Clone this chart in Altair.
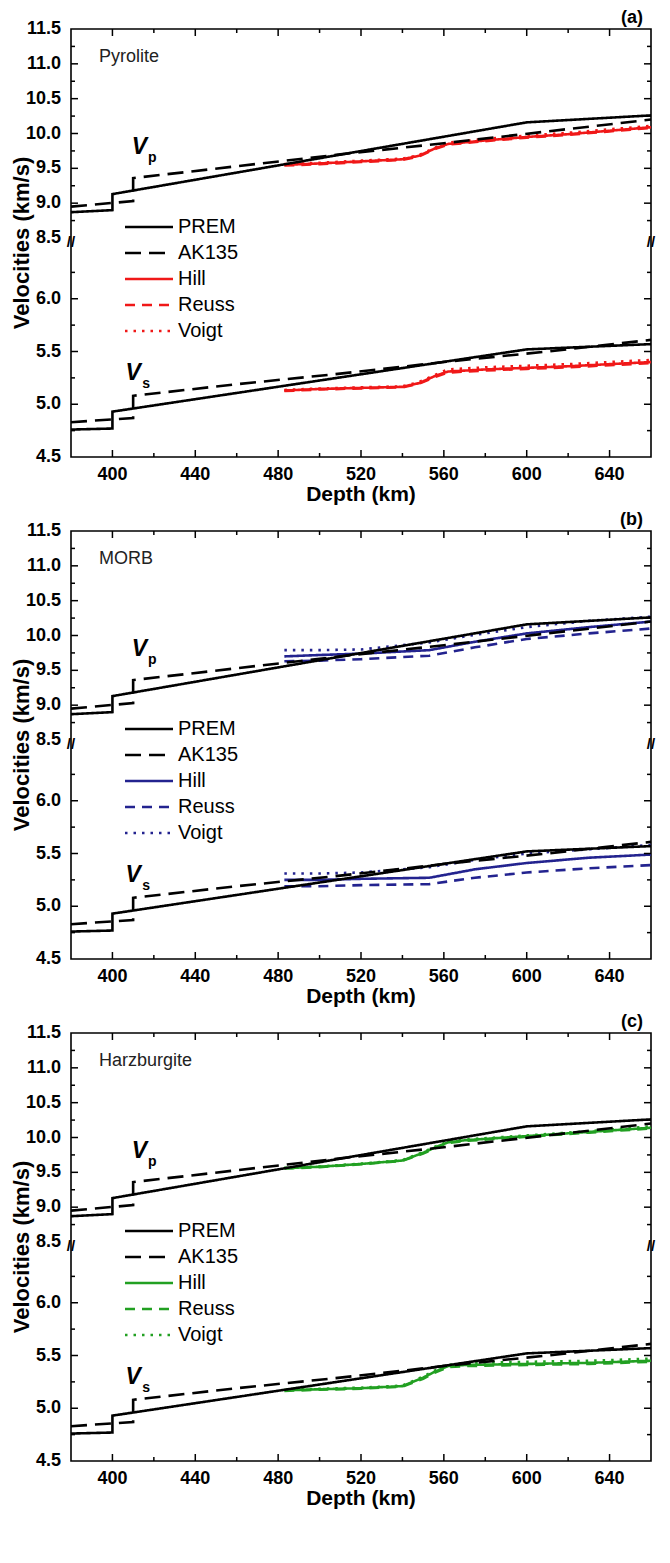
import altair as alt
import pandas as pd

# ---------------- axes / tick values ----------------
X_DOMAIN = [380, 660]
Y_DOMAIN = [4.5, 6.5, 8.5, 11.5]
X_LABELS = [400, 440, 480, 520, 560, 600, 640]
X_MINOR = [420, 460, 500, 540, 580, 620]
Y_LABELS = [4.5, 5.0, 5.5, 6.0, 8.5, 9.0, 9.5, 10.0, 10.5, 11.0, 11.5]
Y_MAJOR = [5.0, 5.5, 6.0, 9.0, 9.5, 10.0, 10.5, 11.0]
Y_MINOR = [4.75, 5.25, 5.75, 6.25, 8.75, 9.25, 9.75, 10.25, 10.75, 11.25]
X_TITLE = "Depth (km)"
Y_TITLE = "Velocities (km/s)"

SERIES = ["PREM", "AK135", "Hill", "Reuss", "Voigt"]
PANEL_TAGS = ["(a)", "(b)", "(c)"]
ROCKS = ["Pyrolite", "MORB", "Harzburgite"]
ROCK_COLORS = ["#f01818", "#23238f", "#22a022"]

# ---------------- reference models ----------------
PREM_DEPTH = [380, 400, 400, 600, 660]
PREM_VP = [8.87, 8.90, 9.13, 10.16, 10.26]
PREM_VS = [4.76, 4.77, 4.93, 5.52, 5.57]

AK135_DEPTH = [380, 410, 410, 460, 510, 560, 610, 660]
AK135_VP = [8.95, 9.03, 9.36, 9.53, 9.70, 9.86, 10.03, 10.20]
AK135_VS = [4.83, 4.87, 5.08, 5.19, 5.29, 5.40, 5.50, 5.61]

# ---------------- (a) pyrolite ----------------
PYR_DEPTH = [483, 500, 520, 540, 548, 556, 562, 580, 600, 620, 640, 660]
PYR_VP_HILL = [9.55, 9.57, 9.60, 9.63, 9.68, 9.79, 9.85, 9.90, 9.95, 9.99, 10.04, 10.09]
PYR_VP_REUSS = [9.54, 9.56, 9.59, 9.62, 9.67, 9.78, 9.84, 9.89, 9.94, 9.98, 10.03, 10.08]
PYR_VP_VOIGT = [9.56, 9.58, 9.61, 9.64, 9.69, 9.80, 9.87, 9.92, 9.97, 10.01, 10.06, 10.11]
PYR_VS_HILL = [5.13, 5.145, 5.155, 5.165, 5.20, 5.27, 5.31, 5.33, 5.345, 5.36, 5.38, 5.40]
PYR_VS_REUSS = [5.125, 5.14, 5.15, 5.16, 5.195, 5.26, 5.30, 5.32, 5.335, 5.35, 5.37, 5.39]
PYR_VS_VOIGT = [5.135, 5.15, 5.16, 5.17, 5.21, 5.28, 5.33, 5.35, 5.365, 5.38, 5.40, 5.42]

# ---------------- (b) MORB ----------------
MORB_DEPTH = [483, 500, 520, 553, 575, 600, 630, 660]
MORB_VP_HILL = [9.70, 9.72, 9.74, 9.79, 9.91, 10.03, 10.12, 10.20]
MORB_VP_REUSS = [9.63, 9.64, 9.66, 9.71, 9.83, 9.95, 10.03, 10.10]
MORB_VP_VOIGT = [9.79, 9.79, 9.80, 9.90, 10.01, 10.12, 10.21, 10.27]
MORB_VS_HILL = [5.25, 5.25, 5.26, 5.27, 5.35, 5.41, 5.46, 5.49]
MORB_VS_REUSS = [5.19, 5.19, 5.20, 5.21, 5.27, 5.32, 5.36, 5.39]
MORB_VS_VOIGT = [5.31, 5.31, 5.32, 5.37, 5.44, 5.50, 5.54, 5.58]

# ---------------- (c) harzburgite ----------------
HARZ_DEPTH = [483, 500, 520, 540, 550, 556, 562, 570, 600, 630, 660]
HARZ_VP_HILL = [9.56, 9.58, 9.62, 9.67, 9.78, 9.86, 9.93, 9.96, 10.02, 10.08, 10.14]
HARZ_VP_REUSS = [9.555, 9.575, 9.615, 9.665, 9.77, 9.85, 9.92, 9.95, 10.01, 10.07, 10.13]
HARZ_VP_VOIGT = [9.565, 9.585, 9.625, 9.675, 9.79, 9.87, 9.94, 9.97, 10.03, 10.09, 10.16]
HARZ_VS_HILL = [5.17, 5.18, 5.19, 5.21, 5.29, 5.35, 5.40, 5.41, 5.42, 5.43, 5.45]
HARZ_VS_REUSS = [5.165, 5.175, 5.185, 5.205, 5.28, 5.34, 5.39, 5.40, 5.41, 5.42, 5.44]
HARZ_VS_VOIGT = [5.175, 5.185, 5.195, 5.215, 5.30, 5.36, 5.41, 5.43, 5.44, 5.45, 5.47]

PANEL_DATA = [
    (PYR_DEPTH, PYR_VP_HILL, PYR_VP_REUSS, PYR_VP_VOIGT, PYR_VS_HILL, PYR_VS_REUSS, PYR_VS_VOIGT),
    (MORB_DEPTH, MORB_VP_HILL, MORB_VP_REUSS, MORB_VP_VOIGT, MORB_VS_HILL, MORB_VS_REUSS, MORB_VS_VOIGT),
    (HARZ_DEPTH, HARZ_VP_HILL, HARZ_VP_REUSS, HARZ_VP_VOIGT, HARZ_VS_HILL, HARZ_VS_REUSS, HARZ_VS_VOIGT),
]

# annotation anchors (data coordinates)
VP_LABEL = (413, 9.81)
VS_LABEL = (410, 5.30)

FONT = "Liberation Sans"
W, H = 580, 428
Y_RANGE = [H, 217, 209, 0]


def build_lines(panel):
    depth, vph, vpr, vpv, vsh, vsr, vsv = panel
    rows = []
    idx = 0

    def add(series, wave, ds, vs):
        nonlocal idx
        for d, v in zip(ds, vs):
            rows.append({"depth": d, "v": v, "series": series, "wave": wave, "idx": idx})
            idx += 1

    add("Hill", "p", depth, vph)
    add("Reuss", "p", depth, vpr)
    add("Voigt", "p", depth, vpv)
    add("Hill", "s", depth, vsh)
    add("Reuss", "s", depth, vsr)
    add("Voigt", "s", depth, vsv)
    add("PREM", "p", PREM_DEPTH, PREM_VP)
    add("PREM", "s", PREM_DEPTH, PREM_VS)
    add("AK135", "p", AK135_DEPTH, AK135_VP)
    add("AK135", "s", AK135_DEPTH, AK135_VS)
    return pd.DataFrame(rows)


def make_panel(i):
    color = ROCK_COLORS[i]
    xs = alt.Scale(domain=X_DOMAIN, nice=False, zero=False)
    ys = alt.Scale(domain=Y_DOMAIN, range=Y_RANGE, nice=False, zero=False)
    enc = dict(
        color=alt.Color("series:N", scale=alt.Scale(domain=SERIES, range=["black", "black", color, color, color]), legend=None),
        strokeDash=alt.StrokeDash("series:N", scale=alt.Scale(domain=SERIES, range=[[1, 0], [16, 8], [1, 0], [10, 7], [2.5, 6]]), legend=None),
        strokeWidth=alt.StrokeWidth("series:N", scale=alt.Scale(domain=SERIES, range=[2.6, 2.6, 1.4, 1.4, 1.8]), legend=None),
    )
    df = build_lines(PANEL_DATA[i])
    ref = df[df.series.isin(["PREM", "AK135"])]
    mins = df[~df.series.isin(["PREM", "AK135"])]

    Xn = lambda f: alt.X(f, scale=xs, axis=None)
    Yn = lambda f: alt.Y(f, scale=ys, axis=None)

    mineral = alt.Chart(mins).mark_line().encode(
        x=Xn("depth:Q"), y=Yn("v:Q"), detail="wave:N", order="idx:Q", **enc)
    reference = alt.Chart(ref).mark_line().encode(
        x=Xn("depth:Q"), y=Yn("v:Q"), detail="wave:N", order="idx:Q", **enc)

    # inward ticks on all four sides (tick marks shifted inside the frame)
    ymaj = pd.DataFrame({"v": Y_MAJOR})
    ymin = pd.DataFrame({"v": Y_MINOR})
    xmaj = pd.DataFrame({"depth": X_LABELS})
    xmin = pd.DataFrame({"depth": X_MINOR})
    tick_layers = []
    for data, size in ((ymaj, 7), (ymin, 4)):
        for xv, off in ((0, size / 2), (W, -size / 2)):
            tick_layers.append(alt.Chart(data).mark_tick(
                orient="horizontal", size=size, thickness=1.5, xOffset=off, color="black", opacity=1).encode(
                x=alt.value(xv), y=Yn("v:Q")))
    for data, size in ((xmaj, 7), (xmin, 4)):
        for yv, off in ((0, size / 2), (H, -size / 2)):
            tick_layers.append(alt.Chart(data).mark_tick(
                orient="vertical", size=size, thickness=1.5, yOffset=off, color="black", opacity=1).encode(
                y=alt.value(yv), x=Xn("depth:Q")))

    # tick labels and axis titles as text marks placed through the scales
    ylab = pd.DataFrame({"v": Y_LABELS, "lab": [f"{v:.1f}" for v in Y_LABELS]})
    xlab = pd.DataFrame({"depth": X_LABELS, "lab": [str(d) for d in X_LABELS]})
    y_labels = alt.Chart(ylab).mark_text(align="right", baseline="middle", font=FONT, fontSize=18,
                                         fontWeight="bold", color="black").encode(
        x=alt.value(-10), y=Yn("v:Q"), text="lab:N")
    x_labels = alt.Chart(xlab).mark_text(align="center", baseline="top", font=FONT, fontSize=18,
                                         fontWeight="bold", color="black").encode(
        x=Xn("depth:Q"), y=alt.value(H + 9), text="lab:N")
    titles = pd.DataFrame({"xt": [X_TITLE], "yt": [Y_TITLE]})
    y_title = alt.Chart(titles).mark_text(align="center", baseline="middle", font=FONT, fontSize=22,
                                          fontWeight="bold", color="black", angle=270).encode(
        x=alt.value(-49), y=alt.value(H / 2), text="yt:N")
    x_title = alt.Chart(titles).mark_text(align="center", baseline="middle", font=FONT, fontSize=21,
                                          fontWeight="bold", color="black").encode(
        x=alt.value(W / 2), y=alt.value(H + 38), text="xt:N")

    # legend drawn inside the plot, one row per series
    leg_layers = []
    for r, s in enumerate(SERIES):
        row = pd.DataFrame({"series": [s]})
        py = 198 + r * 26
        leg_layers.append(alt.Chart(row).mark_rule().encode(
            x=alt.value(54), x2=alt.value(102), y=alt.value(py), **enc))
        leg_layers.append(alt.Chart(row).mark_text(
            align="left", baseline="middle", font=FONT, fontSize=20, color="black").encode(
            x=alt.value(107), y=alt.value(py), text="series:N"))

    # Vp / Vs labels
    ann = pd.DataFrame({"depth": [VP_LABEL[0], VS_LABEL[0]], "v": [VP_LABEL[1], VS_LABEL[1]],
                        "main": ["V", "V"], "sub": ["p", "s"]})
    v_main = alt.Chart(ann).mark_text(font=FONT, fontSize=23, fontWeight="bold", fontStyle="italic",
                                      color="black", baseline="middle", align="center").encode(
        x=Xn("depth:Q"), y=Yn("v:Q"), text="main:N")
    v_sub = alt.Chart(ann).mark_text(font=FONT, fontSize=14, fontWeight="bold", color="black",
                                     baseline="middle", align="center", dx=13, dy=11).encode(
        x=Xn("depth:Q"), y=Yn("v:Q"), text="sub:N")

    lab = pd.DataFrame({"rock": [ROCKS[i]], "tag": [PANEL_TAGS[i]], "brk": ["//"]})
    rock_text = alt.Chart(lab).mark_text(align="left", baseline="middle", font=FONT, fontSize=18,
                                         color="#222").encode(
        x=alt.value(28), y=alt.value(28), text="rock:N")
    tag_text = alt.Chart(lab).mark_text(align="right", baseline="middle", font=FONT, fontSize=18,
                                        fontWeight="bold", color="black").encode(
        x=alt.value(W - 8), y=alt.value(-11), text="tag:N")
    break_layers = []
    for bx in (0, W):
        break_layers.append(alt.Chart(lab).mark_text(font=FONT, fontSize=15, fontWeight="bold", color="black",
                                                     baseline="middle", align="center").encode(
            x=alt.value(bx), y=alt.value(213), text="brk:N"))

    return alt.layer(mineral, reference, *tick_layers, y_labels, x_labels, y_title, x_title,
                     *leg_layers, v_main, v_sub, rock_text, tag_text, *break_layers).properties(
        width=W, height=H)


chart = alt.vconcat(make_panel(0), make_panel(1), make_panel(2), spacing=74, bounds="flush").resolve_scale(
    color="independent", strokeDash="independent", strokeWidth="independent"
).properties(padding={"left": 2, "top": 0, "right": 0, "bottom": 0}).configure_view(
    stroke="black", strokeWidth=1.6
)

chart.save("out.html", embed_options={"renderer": "svg", "actions": False})
